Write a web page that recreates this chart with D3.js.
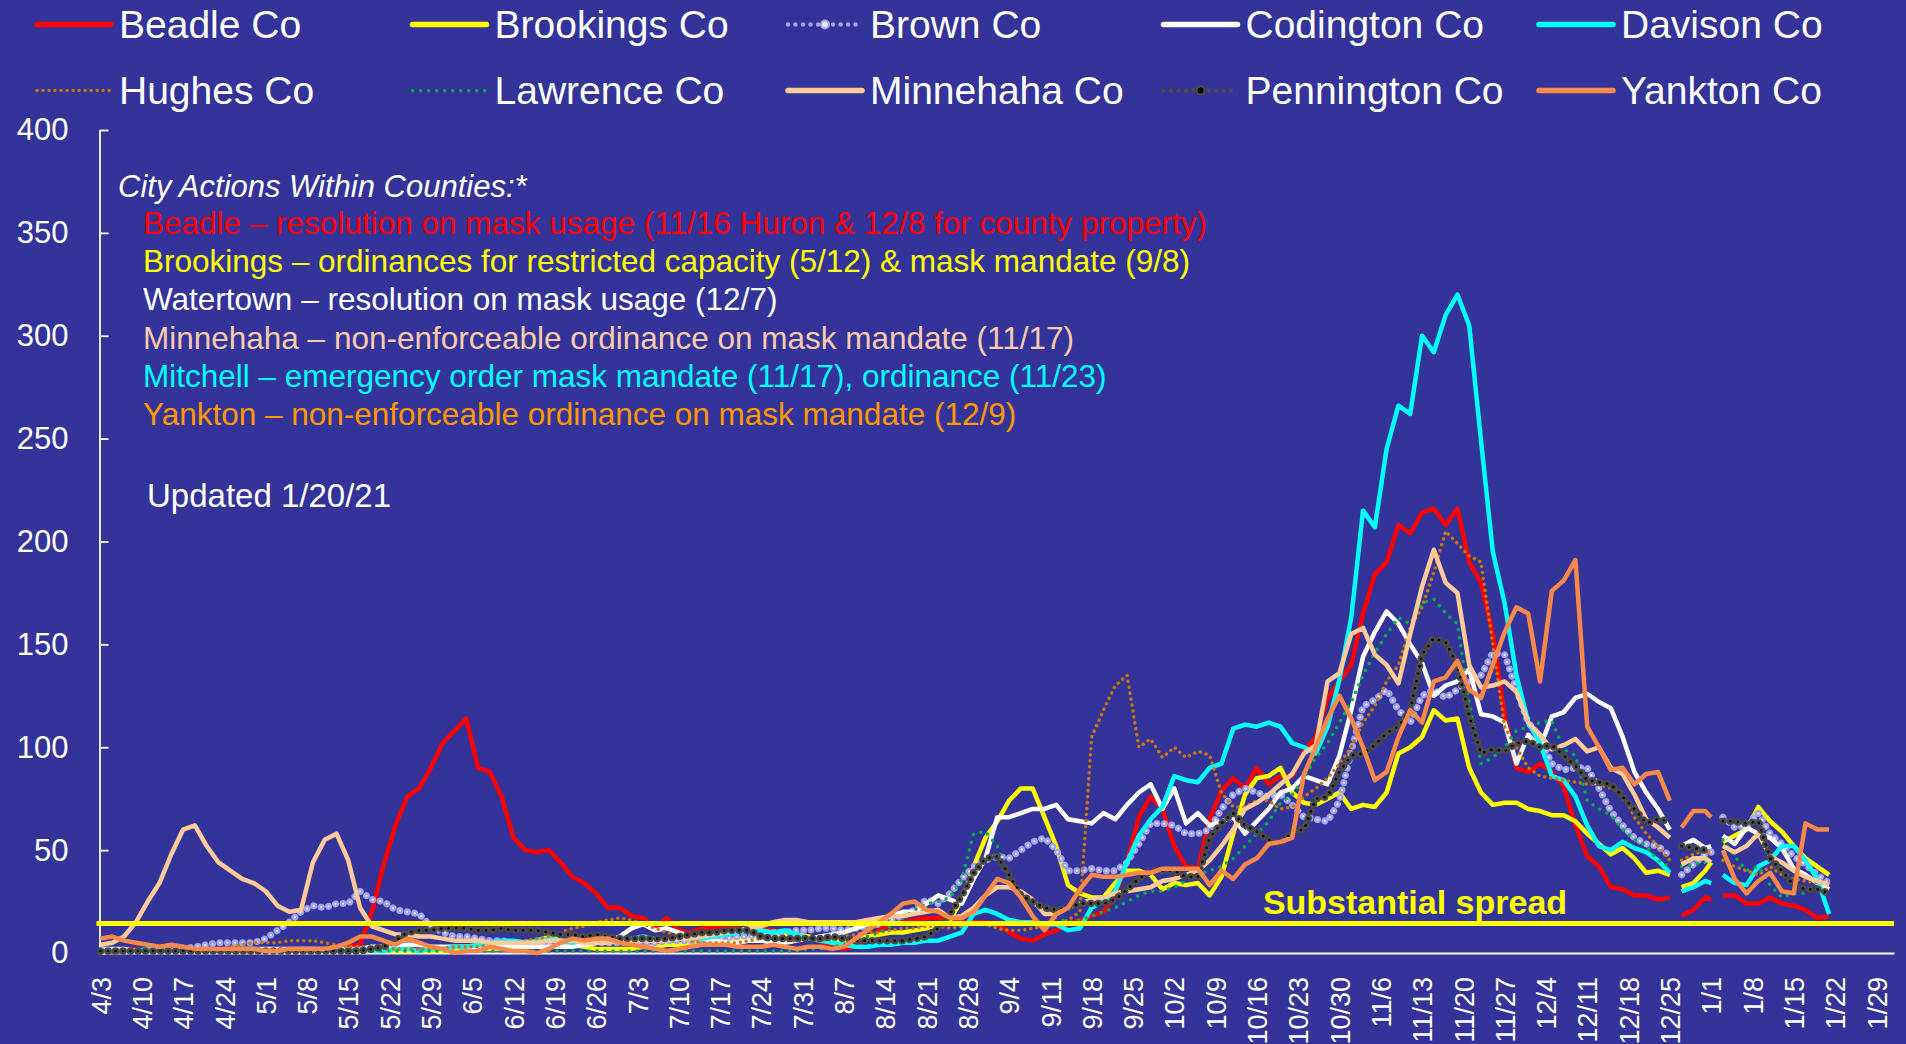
<!DOCTYPE html>
<html>
<head>
<meta charset="utf-8">
<script src="https://cdn.jsdelivr.net/npm/d3@7"></script>
<style>
  html, body { margin: 0; padding: 0; background: #333399; }
  svg { display: block; font-family: "Liberation Sans", Arial, Helvetica, sans-serif; }
</style>
</head>
<body>
<svg id="chart" width="1906" height="1044"></svg>
<script>
// x categories: day offsets from 4/3/2020 (every 2 days, gaps on 12/26 and 1/2)
const startDate = new Date(2020, 3, 3);
const pointDays = [...d3.range(0, 267, 2),
  267, 268, 270, 272, 273, 274, 275, 277, 279, 281, 283, 285, 287, 289, 291, 293];

const xTickLabels = ["4/3","4/10","4/17","4/24","5/1","5/8","5/15","5/22","5/29","6/5","6/12",
  "6/19","6/26","7/3","7/10","7/17","7/24","7/31","8/7","8/14","8/21","8/28","9/4","9/11",
  "9/18","9/25","10/2","10/9","10/16","10/23","10/30","11/6","11/13","11/20","11/27","12/4",
  "12/11","12/18","12/25","1/1","1/8","1/15","1/22","1/29"];
const yTicks = [0, 50, 100, 150, 200, 250, 300, 350, 400];
const substantialLevel = 14.29;

const seriesNames = ["Beadle Co","Brookings Co","Brown Co","Codington Co","Davison Co",
  "Hughes Co","Lawrence Co","Minnehaha Co","Pennington Co","Yankton Co"];

const beadle = [
  1,1,2,2,1,1,2,2,1,1,
  2,2,1,1,1,2,2,1,1,2,
  2,3,4,20,43,62,76,80,90,102,
  108,114,90,88,76,56,50,49,50,44,
  37,34,29,22,22,18,17,12,17,11,
  10,12,12,13,12,11,12,11,10,9,
  8,6,3,2,3,7,11,14,15,16,
  17,17,16,15,15,15,14,10,7,6,
  9,11,14,16,18,20,28,44,66,76,
  70,52,42,41,65,79,85,80,90,82,
  86,86,98,105,124,132,140,165,184,190,
  208,204,214,216,208,216,190,180,155,115,
  90,88,92,88,81,62,47,42,32,31,
  28,28,26,27,
  null,18,21,27,26,null,28,28,24,24,27,24,23,21,17,18];

const brookings = [
  1,1,1,1,1,1,1,1,1,1,
  1,1,1,1,1,1,1,1,1,1,
  1,1,1,1,1,1,1,1,1,1,
  1,1,2,2,2,2,3,6,8,6,
  4,3,2,2,2,2,3,3,4,4,
  5,5,6,6,7,7,8,8,9,9,
  8,7,6,6,7,8,9,10,10,11,
  12,14,16,26,42,56,64,74,80,80,
  66,52,33,29,27,27,34,40,40,38,
  31,34,33,34,28,37,58,77,85,86,
  90,78,73,72,75,78,70,72,71,78,
  97,100,105,118,113,114,90,78,72,73,
  73,70,69,67,67,64,58,53,48,51,
  46,39,40,38,
  null,32,34,40,44,null,54,57,60,71,64,59,52,46,42,38];

const brown = [
  1,1,1,1,1,2,2,2,3,4,
  5,5,5,5,7,11,15,20,23,22,
  24,24,30,26,25,21,20,19,13,10,
  8,8,7,6,6,5,5,5,5,5,
  5,5,5,5,5,5,5,5,6,6,
  6,6,7,7,8,8,9,10,10,11,
  11,12,12,11,12,13,14,16,18,21,
  26,24,29,36,42,45,47,46,50,54,
  56,50,40,40,41,40,40,44,53,63,
  63,62,58,58,60,70,77,80,78,76,
  77,72,66,65,64,74,98,120,123,128,
  118,112,125,128,124,128,132,135,146,145,
  128,112,105,92,89,90,90,80,69,62,
  56,53,52,47,
  null,38,43,48,49,null,66,61,62,68,58,53,47,43,38,34];

const codington = [
  2,2,2,1,1,1,1,1,1,1,
  1,2,2,2,2,2,2,2,2,2,
  2,2,2,3,3,4,4,4,3,3,
  3,3,3,3,3,3,3,3,3,3,
  3,4,5,6,8,12,14,11,12,10,
  8,7,6,5,5,6,6,5,5,6,
  7,8,9,10,12,14,16,18,20,20,
  24,28,26,24,36,46,66,66,68,70,
  70,72,65,64,63,68,65,72,78,82,
  70,80,63,68,62,64,66,58,64,70,
  78,80,86,84,82,96,118,144,156,166,
  160,150,141,125,130,132,138,116,115,112,
  92,106,100,115,117,124,126,122,119,105,
  88,78,70,60,
  null,52,55,51,52,null,57,53,61,58,56,51,41,38,34,31];

const davison = [
  1,1,1,1,2,1,1,2,2,1,
  1,1,2,2,1,1,1,2,2,1,
  1,1,2,1,1,2,2,1,2,2,
  3,3,4,5,6,6,5,6,7,6,
  5,6,7,7,6,7,8,7,6,7,
  8,7,8,9,10,11,11,10,11,9,
  7,6,5,4,3,3,4,4,5,5,
  6,6,8,10,19,21,19,16,15,15,
  14,14,11,12,22,25,30,44,57,65,
  71,86,84,83,90,92,109,111,110,112,
  110,102,100,97,110,133,163,215,207,245,
  266,262,300,292,310,320,305,249,195,170,
  135,112,102,86,84,76,62,52,50,54,
  51,49,45,39,
  null,30,32,35,34,null,38,34,33,42,45,52,52,45,36,19];

const hughes = [
  0,0,0,1,1,1,1,1,1,2,
  2,3,4,5,5,5,6,6,6,5,
  4,3,3,3,2,2,2,2,2,2,
  3,3,3,4,5,5,6,7,8,10,
  12,13,15,16,17,16,14,12,10,8,
  6,5,5,5,5,6,7,7,6,6,
  6,6,7,8,9,10,10,11,12,12,
  13,13,12,13,15,14,12,11,11,12,
  13,14,16,20,105,118,130,135,100,104,
  95,100,95,98,96,78,71,71,74,74,
  70,71,76,80,85,92,100,112,120,132,
  140,158,168,185,205,199,193,190,150,110,
  100,90,86,85,84,83,82,82,80,78,
  66,58,52,45,
  null,45,48,50,48,null,45,42,40,38,42,38,36,35,34,34];

const lawrence = [
  1,1,1,1,1,1,1,1,1,1,
  1,1,1,1,1,1,1,1,1,1,
  1,1,1,1,1,1,1,1,1,1,
  1,1,1,1,1,1,1,1,1,1,
  1,1,1,1,1,1,1,1,1,1,
  1,1,1,1,1,1,1,1,1,1,
  2,2,3,4,6,8,10,13,17,21,
  24,25,27,36,58,59,52,35,28,24,
  20,17,15,16,18,20,22,25,28,30,
  30,32,35,38,40,42,46,52,58,64,
  73,77,85,95,102,112,122,135,146,155,
  163,160,170,172,165,160,122,92,95,100,
  108,110,112,113,99,96,74,70,67,60,
  55,52,45,42,
  null,42,43,44,45,null,55,47,40,42,33,27,29,29,32,27];

const minnehaha = [
  4,5,8,15,25,34,48,60,62,52,
  44,40,36,34,30,23,20,21,44,55,
  58,45,22,13,11,9,9,8,8,7,
  6,6,6,5,5,5,5,5,6,6,
  6,5,5,5,6,6,6,6,6,7,
  7,8,9,10,11,12,13,15,16,16,
  15,15,15,15,15,16,17,18,18,19,
  20,21,17,18,22,28,32,32,30,26,
  19,19,22,24,26,27,29,30,31,32,
  35,36,38,40,45,52,60,70,73,77,
  82,87,97,101,132,136,155,158,145,140,
  131,155,178,196,180,175,140,129,130,132,
  127,112,106,99,101,104,98,100,90,87,
  77,65,61,56,
  null,43,46,46,44,null,52,49,52,58,47,44,40,37,35,33];

const pennington = [
  1,1,1,1,1,1,1,1,1,1,
  1,1,1,1,1,1,1,1,1,1,
  1,1,1,2,3,6,10,11,11,12,
  12,12,11,11,12,11,11,11,10,9,
  9,8,9,8,7,7,7,7,7,8,
  9,10,10,11,11,11,8,7,7,7,
  7,7,8,7,6,6,6,6,6,7,
  8,12,19,28,39,46,47,38,28,25,
  22,21,22,24,24,24,26,31,36,40,
  40,40,37,37,56,63,68,62,59,55,
  53,59,60,75,76,88,96,97,101,107,
  110,118,145,153,151,140,115,97,99,98,
  102,103,100,101,96,91,84,83,82,76,
  70,63,65,64,
  null,52,51,50,50,null,64,64,63,64,46,40,33,31,31,29];

const yankton = [
  7,8,6,5,4,3,4,3,2,2,
  2,2,2,2,1,1,2,2,2,2,
  3,5,8,8,6,4,7,5,3,2,
  0,1,1,3,2,1,1,0,2,5,
  7,6,7,7,5,4,3,2,1,2,
  3,4,4,4,3,3,3,4,3,2,
  3,3,2,3,7,11,15,19,24,25,
  21,20,17,17,20,28,36,34,27,18,
  11,19,22,31,38,37,37,38,39,39,
  41,41,41,41,33,40,36,43,46,53,
  54,56,87,100,114,125,114,100,84,88,
  105,118,112,132,134,142,128,124,140,156,
  168,165,132,176,181,191,110,100,89,90,
  82,87,88,74,
  null,61,69,69,66,null,50,36,29,35,39,30,29,63,60,60];

const actionLines = [
  { text: "Beadle \u2013 resolution on mask usage (11/16 Huron & 12/8 for county property)", color: "#ff0000" },
  { text: "Brookings \u2013 ordinances for restricted capacity (5/12) & mask mandate (9/8)", color: "#ffff00" },
  { text: "Watertown \u2013 resolution on mask usage (12/7)", color: "#ffffff" },
  { text: "Minnehaha \u2013 non-enforceable ordinance on mask mandate (11/17)", color: "#f8cbad" },
  { text: "Mitchell \u2013 emergency order mask mandate (11/17), ordinance (11/23)", color: "#00ffff" },
  { text: "Yankton \u2013 non-enforceable ordinance on mask mandate (12/9)", color: "#ff9900" }
];

// styles per series
const styles = [
  { color: "#ff0000", width: 4.5 },
  { color: "#ffff00", width: 4.5 },
  { color: "#a3a3f0", width: 7, dash: "0.01 7.5", inner: "#ececff", innerWidth: 2.2 },
  { color: "#ffffff", width: 4.5 },
  { color: "#00ffff", width: 4.5 },
  { color: "#c8780a", width: 3.5, dash: "0.01 6" },
  { color: "#00b050", width: 3.5, dash: "0.01 8" },
  { color: "#ffcc99", width: 4.5 },
  { color: "#4a4a4a", width: 7.5, dash: "0.01 7.5", inner: "#000000", innerWidth: 2.6 },
  { color: "#f7894a", width: 4.5 }
];
const seriesValues = [beadle, brookings, brown, codington, davison, hughes, lawrence,
  minnehaha, pennington, yankton];

const svg = d3.select("#chart");
svg.append("rect").attr("width", 1906).attr("height", 1044).attr("fill", "#333399");

const x = d3.scaleTime()
  .domain([startDate, new Date(2021, 1, 1)])
  .range([100.5, 1894]);
const y = d3.scaleLinear().domain([0, 400]).range([953, 130]);

const dates = pointDays.map(d => d3.timeDay.offset(startDate, d));
const tickDates = xTickLabels.map(s => {
  const [m, d] = s.split("/").map(Number);
  return new Date(m >= 4 ? 2020 : 2021, m - 1, d);
});

// axes
const yAxisG = svg.append("g")
  .attr("transform", "translate(99.5,0)")
  .style("color", "#ffffff")
  .call(d3.axisLeft(y).tickValues(yTicks).tickSize(-9).tickSizeOuter(0).tickPadding(31));
yAxisG.selectAll("text")
  .attr("font-size", 31)
  .attr("font-family", "'Liberation Sans', Arial, sans-serif");
yAxisG.selectAll("line, path").attr("stroke-width", 1.8);

const xAxisG = svg.append("g")
  .attr("transform", "translate(0,953)")
  .style("color", "#ffffff")
  .call(d3.axisBottom(x).tickValues(tickDates).tickFormat((d, i) => xTickLabels[i])
    .tickSize(0).tickSizeOuter(0));
xAxisG.select(".domain").attr("stroke-width", 2.2);
xAxisG.selectAll("text")
  .attr("font-size", 27)
  .attr("font-family", "'Liberation Sans', Arial, sans-serif")
  .attr("y", 0).attr("dy", null)
  .attr("text-anchor", "end")
  .attr("transform", "translate(9.7,24) rotate(-90)");

// series lines
const line = d3.line()
  .defined(d => d.v != null)
  .x(d => x(d.date))
  .y(d => y(d.v));

seriesValues.forEach((vals, i) => {
  const pts = vals.map((v, k) => ({ date: dates[k], v: v }));
  const st = styles[i];
  const p = svg.append("path")
    .datum(pts)
    .attr("fill", "none")
    .attr("stroke", st.color)
    .attr("stroke-width", st.width)
    .attr("stroke-linejoin", "round")
    .attr("stroke-linecap", st.dash ? "round" : "butt")
    .attr("d", line);
  if (st.dash) p.attr("stroke-dasharray", st.dash);
  if (st.inner) {
    svg.append("path")
      .datum(pts)
      .attr("fill", "none")
      .attr("stroke", st.inner)
      .attr("stroke-width", st.innerWidth)
      .attr("stroke-linecap", "round")
      .attr("stroke-dasharray", st.dash)
      .attr("d", line);
  }
});

// substantial spread threshold
svg.append("line")
  .attr("x1", x.range()[0] - 4).attr("x2", x.range()[1])
  .attr("y1", y(substantialLevel)).attr("y2", y(substantialLevel))
  .attr("stroke", "#ffff00").attr("stroke-width", 5);
svg.append("text")
  .attr("x", 1415).attr("y", y(substantialLevel) - 10)
  .attr("text-anchor", "middle")
  .attr("font-size", 34).attr("font-weight", "bold")
  .attr("fill", "#ffff00")
  .text("Substantial spread");

// annotations
const note = svg.append("g");
note.append("text")
  .attr("x", 118).attr("y", 197)
  .attr("font-size", 31).attr("font-style", "italic")
  .attr("fill", "#ffffff")
  .text("City Actions Within Counties:*");
actionLines.forEach((a, i) => {
  note.append("text")
    .attr("x", 143).attr("y", 234 + i * 38.2)
    .attr("font-size", 31.5)
    .attr("fill", a.color)
    .text(a.text);
});
note.append("text")
  .attr("x", 147).attr("y", 507)
  .attr("font-size", 33)
  .attr("fill", "#ffffff")
  .text("Updated 1/20/21");

// legend
const legend = svg.append("g");
seriesNames.forEach((name, i) => {
  const row = Math.floor(i / 5), col = i % 5;
  const lx = 37 + col * 375.5;
  const ly = 24.5 + row * 66;
  const st = styles[i];
  const g = legend.append("g");
  const sample = g.append("line")
    .attr("x1", lx).attr("x2", lx + 74)
    .attr("y1", ly).attr("y2", ly)
    .attr("stroke", st.color)
    .attr("stroke-width", st.dash ? Math.min(st.width, 4.5) : 5.5)
    .attr("stroke-linecap", "round");
  if (st.dash) sample.attr("stroke-dasharray", st.dash);
  if (st.inner) {
    g.append("circle").attr("cx", lx + 37).attr("cy", ly).attr("r", 4)
      .attr("fill", st.inner).attr("stroke", st.color).attr("stroke-width", 2);
  }
  g.append("text")
    .attr("x", lx + 82).attr("y", ly + 13.5)
    .attr("font-size", 39)
    .attr("fill", "#ffffff")
    .text(name);
});
</script>
</body>
</html>
